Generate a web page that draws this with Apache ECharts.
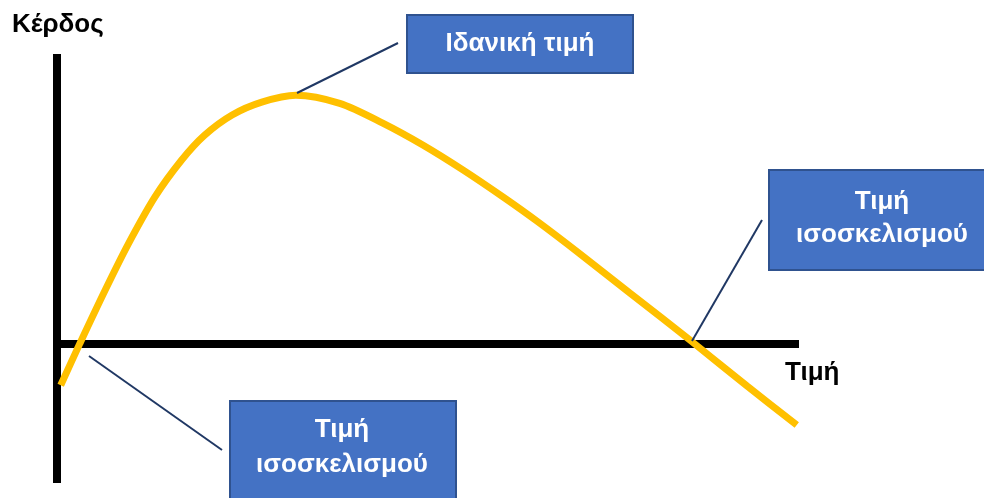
<!DOCTYPE html>
<html>
<head>
<meta charset="utf-8">
<script src="https://cdn.jsdelivr.net/npm/echarts@6/dist/echarts.min.js"></script>
<style>
html, body { margin: 0; padding: 0; background: #fff; }
#chart { width: 984px; height: 498px; }
</style>
</head>
<body>
<div id="chart"></div>
<script>
// price (x) and profit (y)
var price  = [0.5, 3.1, 6.5, 9.6, 13.2, 16.8, 19.9, 23.6, 27.6, 32.2, 38.1, 43.9, 49.3, 54.7, 60.1, 64.8, 70.5, 77.2, 85.6, 93.0, 99.7];
var profit = [-9.7, 0.1, 12.5, 23.2, 34.2, 42.8, 48.6, 53.3, 56.3, 57.9, 56.0, 51.4, 46.3, 40.5, 34.2, 28.4, 20.9, 11.8, 0.4, -9.9, -19.0];

var yTitle = 'Κέρδος';
var xTitle = 'Τιμή';
var idealLabel = ['Ιδανική τιμή'];
var breakEvenLabel = ['Τιμή', 'ισοσκελισμού'];

var points = price.map(function (p, i) { return [p, profit[i]]; });

var boxFill = '#4472C4';
var boxStroke = '#2F528F';
var leader = '#203864';
var font = 'bold 26px "Liberation Sans", Arial, sans-serif';

function txt(s, x, y, color, align) {
    return {
        type: 'text', x: x, y: y, z: 10,
        style: { text: s, font: font, fill: color, textAlign: align || 'center', textVerticalAlign: 'middle' }
    };
}
function box(x, y, w, h) {
    return {
        type: 'rect', z: 9,
        shape: { x: x, y: y, width: w, height: h },
        style: { fill: boxFill, stroke: boxStroke, lineWidth: 2 }
    };
}
function seg(x1, y1, x2, y2) {
    return {
        type: 'line', z: 9,
        shape: { x1: x1, y1: y1, x2: x2, y2: y2 },
        style: { stroke: leader, lineWidth: 2 }
    };
}

var chart = echarts.init(document.getElementById('chart'));
chart.setOption({
    animation: false,
    grid: { left: 57, right: 185, top: 54, bottom: 15 },
    xAxis: {
        type: 'value', min: 0, max: 100,
        axisLine: { show: true, onZero: true, lineStyle: { color: '#000', width: 8, cap: 'butt' } },
        axisTick: { show: false }, axisLabel: { show: false }, splitLine: { show: false }
    },
    yAxis: {
        type: 'value', min: -32.5, max: 67.5,
        axisLine: { show: true, lineStyle: { color: '#000', width: 8, cap: 'butt' } },
        axisTick: { show: false }, axisLabel: { show: false }, splitLine: { show: false }
    },
    series: [{
        type: 'line',
        data: points,
        smooth: 0.3,
        showSymbol: false,
        clip: false,
        lineStyle: { color: '#FFC000', width: 7, cap: 'butt' }
    }],
    graphic: [
        txt(yTitle, 12, 25, '#000', 'left'),
        txt(xTitle, 785, 373, '#000', 'left'),

        seg(297, 93, 398, 43),
        box(407, 15, 226, 58),
        txt(idealLabel[0], 520, 44, '#fff'),

        seg(692, 341, 762, 220),
        box(769, 170, 228, 100),
        txt(breakEvenLabel[0], 882, 202, '#fff'),
        txt(breakEvenLabel[1], 882, 235, '#fff'),

        seg(89, 356, 222, 450),
        box(230, 401, 226, 110),
        txt(breakEvenLabel[0], 342, 430, '#fff'),
        txt(breakEvenLabel[1], 342, 465, '#fff')
    ]
});
</script>
</body>
</html>
